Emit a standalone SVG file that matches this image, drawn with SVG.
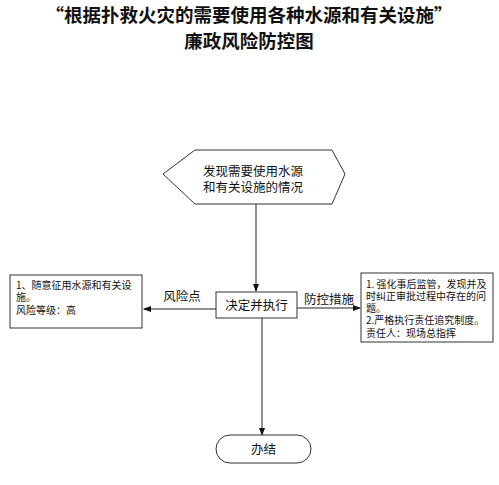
<svg xmlns="http://www.w3.org/2000/svg" width="499" height="485" viewBox="0 0 499 485">
<style>
.t{font-family:"Noto Sans CJK SC","Noto Sans",sans-serif;fill:#111}
.title{font-size:18.5px;font-weight:bold}
.n{font-size:12.5px}
.s{font-size:10px}
.shape{fill:#fff;stroke:#333;stroke-width:1}
.line{stroke:#222;stroke-width:1;fill:none}
</style>
<defs>
<marker id="ah" markerWidth="8" markerHeight="8" refX="7" refY="4" orient="auto" markerUnits="userSpaceOnUse">
<path d="M0,1 L8,4 L0,7 Z" fill="#111"/>
</marker>
</defs>
<g id="title">
<text class="t title" x="249" y="22" text-anchor="middle">“根据扑救火灾的需要使用各种水源和有关设施”</text>
<text class="t title" x="249" y="48" text-anchor="middle">廉政风险防控图</text>
</g>
<g id="connectors">
<line class="line" x1="256" y1="204" x2="256" y2="291" marker-end="url(#ah)"/>
<line class="line" x1="216" y1="309" x2="144" y2="309" marker-end="url(#ah)"/>
<line class="line" x1="297" y1="308" x2="360" y2="308" marker-end="url(#ah)"/>
<line class="line" x1="262" y1="318" x2="262" y2="435" marker-end="url(#ah)"/>
<text class="t n" x="182" y="301" text-anchor="middle">风险点</text>
<text class="t n" x="329" y="304" text-anchor="middle">防控措施</text>
</g>
<g id="start">
<polygon class="shape" points="163,174 195,150 332,150 345,174 332,204 195,204"/>
<text class="t n" x="203" y="176">发现需要使用水源</text>
<text class="t n" x="203" y="192">和有关设施的情况</text>
</g>
<g id="decide">
<rect class="shape" x="216" y="292" width="81" height="26"/>
<text class="t n" x="256.5" y="309.5" text-anchor="middle">决定并执行</text>
</g>
<g id="risk">
<rect class="shape" x="10" y="275" width="132" height="53"/>
<text class="t s" x="16" y="289">1、随意征用水源和有关设</text>
<text class="t s" x="16" y="301">施。</text>
<text class="t s" x="16" y="314">风险等级：高</text>
</g>
<g id="measures">
<rect class="shape" x="361" y="273" width="132" height="69"/>
<text class="t s" x="366" y="288">1. 强化事后监管，发现并及</text>
<text class="t s" x="366" y="300">时纠正审批过程中存在的问</text>
<text class="t s" x="366" y="312">题。</text>
<text class="t s" x="366" y="324">2.严格执行责任追究制度。</text>
<text class="t s" x="366" y="337">责任人：现场总指挥</text>
</g>
<g id="end">
<rect class="shape" x="216" y="435" width="95" height="28" rx="14" ry="14"/>
<text class="t n" x="263.5" y="453.5" text-anchor="middle">办结</text>
</g>
</svg>
